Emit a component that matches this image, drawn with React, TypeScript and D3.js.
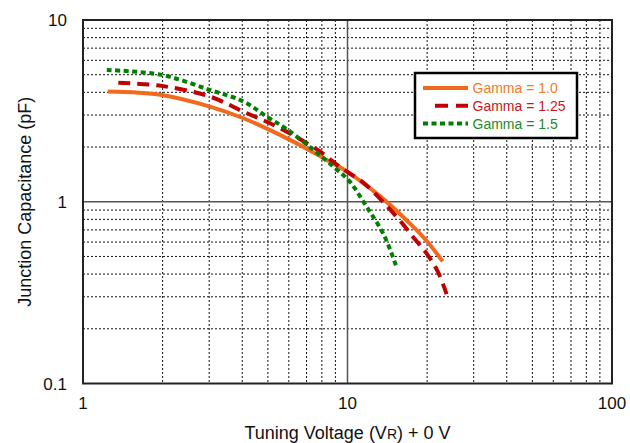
import React, { useEffect } from 'react';
import * as d3 from 'd3';

// values (voltage V, capacitance pF)
const gamma10X = [1.24, 1.98, 3.02, 4.04, 6.06, 8.1, 9.93, 13.3, 17.2, 19.9, 22.9];
const gamma10Y = [4.04, 3.87, 3.34, 2.88, 2.19, 1.74, 1.47, 1.07, 0.76, 0.61, 0.47];

const gamma125X = [1.36, 1.98, 3.02, 4.04, 5.56, 7.87, 9.37, 11.5, 15.3, 17.7, 19.9, 22.0, 23.7];
const gamma125Y = [4.52, 4.34, 3.79, 3.13, 2.54, 1.89, 1.55, 1.27, 0.83, 0.64, 0.52, 0.41, 0.31];

const gamma15X = [1.23, 1.98, 3.02, 4.04, 4.95, 5.89, 7.43, 8.84, 10.2, 11.8, 13.7, 15.3];
const gamma15Y = [5.31, 4.99, 4.12, 3.56, 2.94, 2.51, 1.93, 1.56, 1.29, 0.94, 0.66, 0.44];

const xTickLabels = ['1', '10', '100'];
const yTickLabels = ['0.1', '1', '10'];
const seriesNames = ['Gamma = 1.0', 'Gamma = 1.25', 'Gamma = 1.5'];

const W = 630;
const H = 443;
const M = { left: 83, right: 18, top: 20, bottom: 59.5 };
const FONT = 'Arial, "Liberation Sans", sans-serif';

const series = [
    { name: seriesNames[0], xs: gamma10X, ys: gamma10Y, color: '#F26B1D', text: '#F07A2A', dash: '' },
    { name: seriesNames[1], xs: gamma125X, ys: gamma125Y, color: '#C00000', text: '#C8181E', dash: '12,7' },
    { name: seriesNames[2], xs: gamma15X, ys: gamma15Y, color: '#008000', text: '#1F8A2A', dash: '5,3.5' },
];

export default function App() {
    useEffect(() => {
        document.body.style.margin = '0';
    }, []);

    const x = d3.scaleLog().domain([1, 100]).range([M.left, W - M.right]);
    const y = d3.scaleLog().domain([0.1, 10]).range([H - M.bottom, M.top]);

    const minorX = [2, 3, 4, 5, 6, 7, 8, 9, 20, 30, 40, 50, 60, 70, 80, 90];
    const minorY = [0.2, 0.3, 0.4, 0.5, 0.6, 0.7, 0.8, 0.9, 2, 3, 4, 5, 6, 7, 8, 9];

    const line = d3.line<[number, number]>()
        .x(d => x(d[0]))
        .y(d => y(d[1]))
        .curve(d3.curveCatmullRom.alpha(0.5));

    const [x0, x1] = x.range();
    const [y0, y1] = y.range();

    const lg = { x: 415, y: 73, w: 162, h: 65 };

    return (
        <svg width={W} height={H} style={{ display: 'block', background: '#fff' }} fontFamily={FONT}>
            {/* minor grid */}
            <g stroke="#111" strokeWidth={1} strokeDasharray="2,2">
                {minorX.map(v => (
                    <line key={'gx' + v} x1={x(v)} x2={x(v)} y1={y1} y2={y0} />
                ))}
                {minorY.map(v => (
                    <line key={'gy' + v} x1={x0} x2={x1} y1={y(v)} y2={y(v)} />
                ))}
            </g>
            {/* major grid */}
            <g stroke="#555" strokeWidth={1.5}>
                <line x1={x(10)} x2={x(10)} y1={y1} y2={y0} />
                <line x1={x0} x2={x1} y1={y(1)} y2={y(1)} />
            </g>
            {/* curves */}
            {series.map(s => (
                <path
                    key={s.name}
                    d={line(s.xs.map((v, i) => [v, s.ys[i]] as [number, number])) || ''}
                    fill="none"
                    stroke={s.color}
                    strokeWidth={4}
                    strokeDasharray={s.dash || undefined}
                />
            ))}
            {/* frame */}
            <rect x={x0} y={y1} width={x1 - x0} height={y0 - y1} fill="none" stroke="#222" strokeWidth={2} />

            {/* tick labels */}
            {yTickLabels.map(t => (
                <text key={'yt' + t} x={67} y={y(+t)} dy="0.36em" textAnchor="end" fontSize={17} fill="#111">{t}</text>
            ))}
            {xTickLabels.map(t => (
                <text key={'xt' + t} x={x(+t)} y={409} textAnchor="middle" fontSize={17} fill="#111">{t}</text>
            ))}

            {/* axis titles */}
            <text x={M.left + (x1 - x0) / 2} y={439} textAnchor="middle" fontSize={18} fill="#111">
                Tuning Voltage (V<tspan fontSize={14}>R</tspan>) + 0 V
            </text>
            <text
                transform={`translate(31, ${(y0 + y1) / 2}) rotate(-90)`}
                textAnchor="middle"
                fontSize={18}
                fill="#111"
            >
                Junction Capacitance (pF)
            </text>

            {/* legend */}
            <rect x={lg.x} y={lg.y} width={lg.w} height={lg.h} fill="#fff" stroke="#000" strokeWidth={2.5} />
            {series.map((s, i) => {
                const ly = 88 + i * 17.8;
                return (
                    <g key={'lg' + s.name}>
                        <line x1={423} x2={468} y1={ly} y2={ly} stroke={s.color} strokeWidth={4}
                            strokeDasharray={s.dash ? (i === 1 ? '0,12,13,8,13' : s.dash) : undefined} />
                        <text x={472.5} y={ly} dy="0.36em" fontSize={14} fill={s.text}>{s.name}</text>
                    </g>
                );
            })}
        </svg>
    );
}
